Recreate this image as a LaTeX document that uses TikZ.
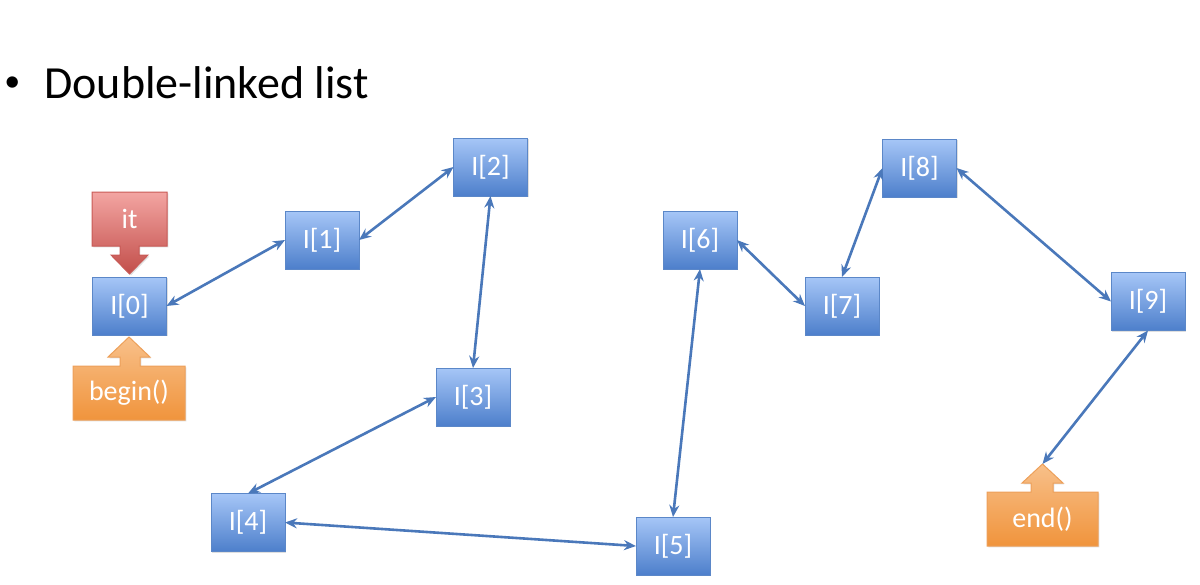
\documentclass[tikz,border=0pt]{standalone}
\usepackage{fontspec}
\setmainfont{Carlito}
\usetikzlibrary{arrows.meta,shadows}
\definecolor{boxtop}{HTML}{A6C6F7}
\definecolor{boxbot}{HTML}{4D7FCB}
\definecolor{boxline}{HTML}{5B87C8}
\definecolor{linkcol}{HTML}{4A78BA}
\definecolor{redtop}{HTML}{F3A5A2}
\definecolor{redbot}{HTML}{C24E4A}
\definecolor{redline}{HTML}{C85A56}
\definecolor{ortop}{HTML}{F8C08A}
\definecolor{orbot}{HTML}{F0943C}
\definecolor{orline}{HTML}{EDA05A}
\begin{document}
\begin{tikzpicture}[x=0.5pt,y=-0.5pt,
  elem/.style={rectangle, draw=boxline, line width=0.5pt, top color=boxtop, bottom color=boxbot,
    minimum width=37pt, minimum height=29pt, inner sep=0pt, outer sep=0pt, text=white,
    font=\fontsize{14}{16}\selectfont,
    drop shadow={opacity=0.25, shadow xshift=0.7pt, shadow yshift=-0.7pt}},
  link/.style={draw=linkcol, line width=1.3pt, {Stealth[length=6pt,width=5pt]}-{Stealth[length=6pt,width=5pt]}},
  callred/.style={draw=redline, line width=0.5pt, top color=redtop, bottom color=redbot,
    drop shadow={opacity=0.25, shadow xshift=0.7pt, shadow yshift=-0.7pt}},
  callor/.style={draw=orline, line width=0.5pt, top color=ortop, bottom color=orbot,
    drop shadow={opacity=0.25, shadow xshift=0.7pt, shadow yshift=-0.7pt}},
  calltext/.style={text=white, font=\fontsize{14}{16}\selectfont, inner sep=0pt}
]
\useasboundingbox (0,0) rectangle (1200,584);

% title
\node[anchor=base west, font=\fontsize{16}{20}\selectfont, inner sep=0pt] (bullet) at (4,91) {•};
\node[anchor=base west, font=\fontsize{23}{28}\selectfont, inner sep=0pt] (title) at (44,98) {Double-linked list};

% list elements
\node[elem] (n0) at (129.5,306) {I[0]};
\node[elem] (n1) at (322,240) {I[1]};
\node[elem] (n2) at (490.5,167) {I[2]};
\node[elem] (n3) at (473,397) {I[3]};
\node[elem] (n4) at (248,522.5) {I[4]};
\node[elem] (n5) at (673,546) {I[5]};
\node[elem] (n6) at (700,240) {I[6]};
\node[elem] (n7) at (842,306) {I[7]};
\node[elem] (n8) at (919.5,168) {I[8]};
\node[elem] (n9) at (1148,301.5) {I[9]};

% it callout (down arrow)
\path[callred] (92,192) -- (167,192) -- (167,246) -- (139,246) -- (139,255) -- (148,255)
  -- (129.5,274) -- (111,255) -- (120,255) -- (120,246) -- (92,246) -- cycle;
\node[calltext] (itlbl) at (129.5,219) {it};

% begin() callout (up arrow)
\path[callor] (73,420) -- (185,420) -- (185,366) -- (140,366) -- (140,357) -- (150,357)
  -- (129,337) -- (108,357) -- (120,357) -- (120,366) -- (73,366) -- cycle;
\node[calltext] (beginlbl) at (129,393) {begin()};

% end() callout (up arrow)
\path[callor] (987,546) -- (1098,546) -- (1098,492) -- (1053,492) -- (1053,483) -- (1063,483)
  -- (1042.5,464) -- (1022,483) -- (1031,483) -- (1031,492) -- (987,492) -- cycle;
\node[calltext] (endlbl) at (1042.5,519) {end()};
\coordinate (endtip) at (1042.5,464);

% links
\draw[link] (n0.east) -- (n1.west);
\draw[link] (n1.east) -- (n2.west);
\draw[link] (n2.south) -- (n3.north);
\draw[link] (n3.west) -- (n4.north);
\draw[link] (n4.east) -- (n5.west);
\draw[link] (n5.north) -- (n6.south);
\draw[link] (n6.east) -- (n7.west);
\draw[link] (n7.north) -- (n8.west);
\draw[link] (n8.east) -- (n9.west);
\draw[link] (n9.south) -- (endtip);
\end{tikzpicture}
\end{document}
